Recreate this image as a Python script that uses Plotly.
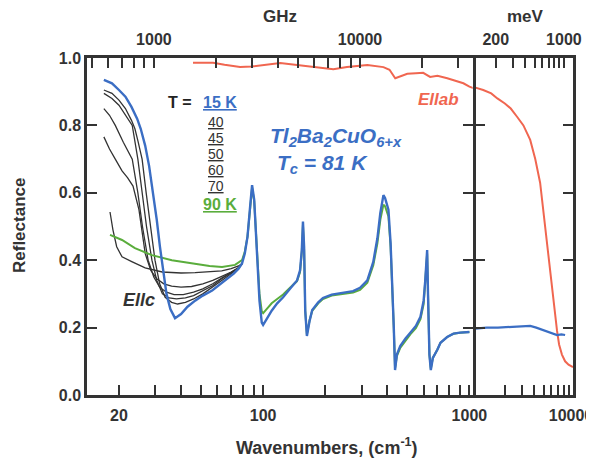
import numpy as np
import plotly.graph_objects as go

# ---------------- data ----------------
blue_x = [16.9, 18.5, 20.0, 21.5, 23.0, 24.5, 25.5, 26.8, 28.0, 29.0, 30.5, 31.6, 32.5, 34.0, 35.5, 37.4,
          40, 43, 46.8, 51, 56.6, 62, 67.6, 72, 76, 79, 81.5, 84, 86.5, 88.4, 90.5, 93, 96, 98.5, 100,
          104, 110, 117, 125, 135, 146, 151, 154, 156, 158, 160, 163, 168, 173, 185, 195, 215, 236, 255,
          273, 295, 320, 342, 358, 370, 378, 383, 390, 405, 415, 422, 430, 436, 445, 462, 490, 517, 550,
          579, 600, 611, 619, 624, 630, 640, 650, 665, 700, 724, 780, 837, 900, 1000]
blue_y = [0.935, 0.925, 0.905, 0.885, 0.855, 0.82, 0.79, 0.74, 0.68, 0.62, 0.52, 0.44, 0.38, 0.30, 0.255, 0.228,
          0.24, 0.262, 0.28, 0.295, 0.31, 0.328, 0.347, 0.36, 0.375, 0.39, 0.42, 0.47, 0.56, 0.623, 0.58, 0.42,
          0.28, 0.215, 0.208,
          0.225, 0.25, 0.272, 0.29, 0.315, 0.34, 0.37, 0.43, 0.515, 0.44, 0.25, 0.175, 0.22, 0.252, 0.275, 0.288,
          0.298, 0.302, 0.304,
          0.308, 0.318, 0.34, 0.395, 0.465, 0.54, 0.58, 0.593, 0.585, 0.55, 0.45, 0.35, 0.2, 0.074, 0.12, 0.145,
          0.168, 0.185, 0.205,
          0.232, 0.28, 0.34, 0.40, 0.43, 0.3, 0.12, 0.074, 0.11, 0.135, 0.155, 0.172, 0.182, 0.185, 0.187]

green_x = [18.1, 20.7, 23.9, 28.9, 36.1, 46.8, 55, 63.2, 73.1, 79, 81.5, 84, 86.5, 88.4, 90.5, 93, 96, 98.5, 100,
           104, 110, 117, 125, 135, 146, 151, 154, 156, 158, 160, 163, 168, 173, 185, 195, 215, 236, 255,
           273, 295, 320, 342, 358, 370, 378, 383, 390, 405, 415, 422, 430, 436, 445, 462, 490, 517, 550,
           579, 600, 611, 619, 624, 630, 640, 650, 665, 700, 724, 780, 837, 900, 1000]
green_y = [0.475, 0.46, 0.436, 0.415, 0.40, 0.389, 0.383, 0.38, 0.386, 0.40, 0.425, 0.47, 0.555, 0.615, 0.575, 0.43,
           0.3, 0.248, 0.243,
           0.255, 0.272, 0.285, 0.298, 0.318, 0.338, 0.365, 0.425, 0.505, 0.43, 0.25, 0.18, 0.222, 0.25, 0.272, 0.285,
           0.295, 0.298, 0.3,
           0.304, 0.312, 0.333, 0.385, 0.45, 0.52, 0.555, 0.565, 0.56, 0.53, 0.44, 0.345, 0.2, 0.08, 0.115, 0.14,
           0.163, 0.18, 0.198,
           0.225, 0.27, 0.33, 0.39, 0.42, 0.3, 0.12, 0.078, 0.11, 0.135, 0.155, 0.172, 0.182, 0.185, 0.187]

k40_x = [16.9, 18.5, 20, 21.5, 23.0, 23.9, 24.7, 25.9, 27.1, 28.2, 29.9, 31.5, 33.5, 36, 38.5, 42, 46, 51, 57, 63, 70, 76, 79]
k40_y = [0.905, 0.895, 0.875, 0.85, 0.815, 0.79, 0.755, 0.70, 0.60, 0.52, 0.40, 0.33, 0.29, 0.275, 0.27, 0.275,
         0.285, 0.30, 0.32, 0.34, 0.36, 0.375, 0.39]
k45_x = [16.9, 18.5, 20, 21.5, 23.2, 24.7, 25.9, 27.2, 28.9, 30.5, 32.5, 35, 38, 42, 46, 51, 57, 63, 70, 76, 79]
k45_y = [0.895, 0.88, 0.86, 0.83, 0.80, 0.70, 0.60, 0.50, 0.40, 0.34, 0.30, 0.288, 0.285, 0.288, 0.295, 0.31,
         0.325, 0.345, 0.362, 0.377, 0.39]
k50_x = [16.9, 18.0, 19.2, 21.0, 23.2, 24.7, 26.0, 27.7, 29.5, 31.5, 34, 37, 41, 46, 51, 57, 63, 70, 76, 79]
k50_y = [0.85, 0.83, 0.80, 0.75, 0.70, 0.60, 0.50, 0.40, 0.35, 0.32, 0.305, 0.298, 0.298, 0.305, 0.315, 0.33,
         0.347, 0.363, 0.377, 0.39]
k60_x = [16.9, 18.0, 19.2, 20.7, 22.0, 23.4, 25.0, 26.8, 28.5, 30.5, 33, 36, 40, 45, 51, 57, 63, 70, 76, 79]
k60_y = [0.766, 0.73, 0.70, 0.665, 0.645, 0.62, 0.55, 0.42, 0.37, 0.345, 0.33, 0.323, 0.32, 0.322, 0.33, 0.34,
         0.352, 0.365, 0.378, 0.39]
k70_x = [18.1, 18.7, 19.5, 20.7, 23.2, 26.8, 32.4, 40, 46.8, 55, 63, 70, 76, 79]
k70_y = [0.543, 0.49, 0.44, 0.41, 0.395, 0.377, 0.365, 0.362, 0.363, 0.365, 0.368, 0.375, 0.383, 0.39]

red_left_x = [45.7, 57.2, 65, 77.3, 88, 100, 121, 146, 175, 219, 255, 320, 383, 410, 437, 470, 500, 550, 597,
              645, 700, 781, 860, 935, 1000, 1050]
red_left_y = [0.986, 0.986, 0.98, 0.973, 0.975, 0.979, 0.985, 0.979, 0.973, 0.967, 0.973, 0.979, 0.973, 0.965,
              0.94, 0.948, 0.953, 0.955, 0.956, 0.944, 0.947, 0.94, 0.932, 0.925, 0.915, 0.91]
red_right_x = [1000, 1200, 1450, 1676, 2000, 2300, 2680, 3100, 3640, 4100, 4600, 4950, 5400, 5800, 6250, 6860,
               7200, 7700, 8300, 9000, 10000]
red_right_y = [0.912, 0.905, 0.895, 0.88, 0.865, 0.85, 0.825, 0.80, 0.757, 0.70, 0.63, 0.55, 0.45, 0.36, 0.28,
               0.19, 0.15, 0.12, 0.10, 0.09, 0.083]
blue_right_x = [1000, 1300, 1700, 2200, 2800, 3645, 4200, 4940, 5800, 6860, 7600, 8300]
blue_right_y = [0.197, 0.2, 0.2, 0.202, 0.204, 0.205, 0.2, 0.193, 0.185, 0.178, 0.18, 0.178]

y_ticks = [0.0, 0.2, 0.4, 0.6, 0.8, 1.0]
x_left_ticks = [20, 30, 40, 50, 60, 70, 80, 90, 100, 200, 300, 400, 500, 600, 700, 800, 900, 1000]
x_left_labels = {20: "20", 100: "100", 1000: "1000"}
x_right_ticks = [2000, 3000, 4000, 5000, 6000, 7000, 8000, 9000, 10000]
x_right_labels = {10000: "10000"}
ghz_ticks = [500, 600, 700, 800, 900, 1000, 2000, 3000, 4000, 5000, 6000, 7000, 8000, 9000, 10000, 20000, 30000]
ghz_labels = {1000: "1000", 10000: "10000"}
mev_ticks = [200, 300, 400, 500, 600, 700, 800, 900, 1000]
mev_labels = {200: "200", 1000: "1000"}
temp_labels = ["40", "45", "50", "60", "70"]

# ---------------- style ----------------
# the page body has an 8px margin, so the figure is drawn 8px in from the window's top-left
OFF = 8
W, H = 594 - OFF, 460 - OFF
BLUE = "#3b6ec4"
GREEN = "#5aad3c"
RED = "#f06650"
BLACK = "#333333"
AX = "#333333"
FONT = "Liberation Sans"

def px(x):
    return (x - OFF) / W

def py(y):
    return 1 - (y - OFF) / H

fig = go.Figure()

black_sets = [(k70_x, k70_y), (k60_x, k60_y), (k50_x, k50_y), (k45_x, k45_y), (k40_x, k40_y)]
for bx, by in black_sets:
    fig.add_trace(go.Scatter(x=bx, y=by, mode="lines", line=dict(color=BLACK, width=1.3),
                             xaxis="x", yaxis="y", showlegend=False))
fig.add_trace(go.Scatter(x=green_x, y=green_y, mode="lines", line=dict(color=GREEN, width=2),
                         xaxis="x", yaxis="y", showlegend=False))
fig.add_trace(go.Scatter(x=blue_x, y=blue_y, mode="lines", line=dict(color=BLUE, width=2.4),
                         xaxis="x", yaxis="y", showlegend=False))
fig.add_trace(go.Scatter(x=red_left_x, y=red_left_y, mode="lines", line=dict(color=RED, width=2),
                         xaxis="x", yaxis="y", showlegend=False))
fig.add_trace(go.Scatter(x=red_right_x, y=red_right_y, mode="lines", line=dict(color=RED, width=2),
                         xaxis="x2", yaxis="y2", showlegend=False))
fig.add_trace(go.Scatter(x=blue_right_x, y=blue_right_y, mode="lines", line=dict(color=BLUE, width=2.2),
                         xaxis="x2", yaxis="y2", showlegend=False))
# empty traces so the top axes get drawn
fig.add_trace(go.Scatter(x=[], y=[], xaxis="x3", yaxis="y", showlegend=False))
fig.add_trace(go.Scatter(x=[], y=[], xaxis="x4", yaxis="y2", showlegend=False))

tickfont = dict(family=FONT, size=16, color=AX, weight="bold")
common = dict(showline=True, linecolor=AX, linewidth=2.5, ticks="inside", ticklen=10, tickwidth=2,
              tickcolor=AX, showgrid=False, zeroline=False, tickfont=tickfont, automargin=False)

xl_dom = [px(87), px(472.7)]
xr_dom = [px(475.5), px(573)]
y_dom = [py(395), py(58)]

fig.update_layout(
    width=W, height=H, margin=dict(l=0, r=0, t=0, b=0),
    paper_bgcolor="white", plot_bgcolor="white", showlegend=False,
    xaxis=dict(type="log", domain=xl_dom, range=[np.log10(14), 3.016], anchor="y",
               tickmode="array", tickvals=x_left_ticks,
               ticktext=[x_left_labels.get(t, "") for t in x_left_ticks],
               ticklabelstandoff=4, **common),
    yaxis=dict(domain=y_dom, range=[0, 1], anchor="x", mirror="ticks",
               tickmode="array", tickvals=y_ticks, ticktext=[f"{v:.1f}" for v in y_ticks],
               ticklabelstandoff=0, **common),
    xaxis2=dict(type="log", domain=xr_dom, range=[3, 4], anchor="y2",
                tickmode="array", tickvals=x_right_ticks,
                ticktext=[x_right_labels.get(t, "") for t in x_right_ticks],
                ticklabelstandoff=4, ticklabelshift=-2, **common),
    yaxis2=dict(domain=y_dom, range=[0, 1], anchor="x2", mirror="ticks", showticklabels=False,
                tickmode="array", tickvals=y_ticks, **common),
    xaxis3=dict(type="log", overlaying="x", side="top", anchor="y",
                range=[2.6754, 4.5468], tickmode="array", tickvals=ghz_ticks,
                ticktext=[ghz_labels.get(t, "") for t in ghz_ticks],
                ticklabelstandoff=4, **common),
    xaxis4=dict(type="log", overlaying="x2", side="top", anchor="y2",
                range=[np.log10(1000 / 8.0655), np.log10(10000 / 8.0655)], tickmode="array",
                tickvals=mev_ticks, ticktext=[mev_labels.get(t, "") for t in mev_ticks],
                ticklabelstandoff=4, **common),
)

def ann(text, x, y, size=14, color=AX, bold=True, italic=False, angle=0, xanchor="center"):
    fig.add_annotation(text=text, x=px(x), y=py(y), xref="paper", yref="paper", showarrow=False,
                       xanchor=xanchor, yanchor="middle", textangle=angle,
                       font=dict(family=FONT, size=size, color=color,
                                 weight="bold" if bold else "normal",
                                 style="italic" if italic else "normal"))

ann("GHz", 280, 16, size=17)
ann("meV", 525, 16, size=17)
ann("Reflectance", 19, 226, size=17, angle=-90)
ann("Wavenumbers, (cm<sup>-1</sup>)", 327, 446, size=18)

ann("T =", 180, 102, size=16, color="#222222")
ann("<u>15 K</u>", 220, 102, size=16, color=BLUE)
for lbl, yy in zip(temp_labels, [122, 138, 154, 170, 186]):
    ann(f"<u>{lbl}</u>", 216, yy, size=14, color="#333333", bold=False)
ann("<u>90 K</u>", 220, 204, size=16, color=GREEN)

ann("Tl<sub>2</sub>Ba<sub>2</sub>CuO<sub>6+x</sub>", 336, 137, size=21, color=BLUE, italic=True)
ann("T<sub>c</sub> = 81 K", 322, 164, size=21, color=BLUE, italic=True)
ann("Ellab", 438, 100, size=17, color=RED, italic=True)
ann("Ellc", 139, 300, size=18, color="#333333", italic=True)

fig.write_html("out.html")
